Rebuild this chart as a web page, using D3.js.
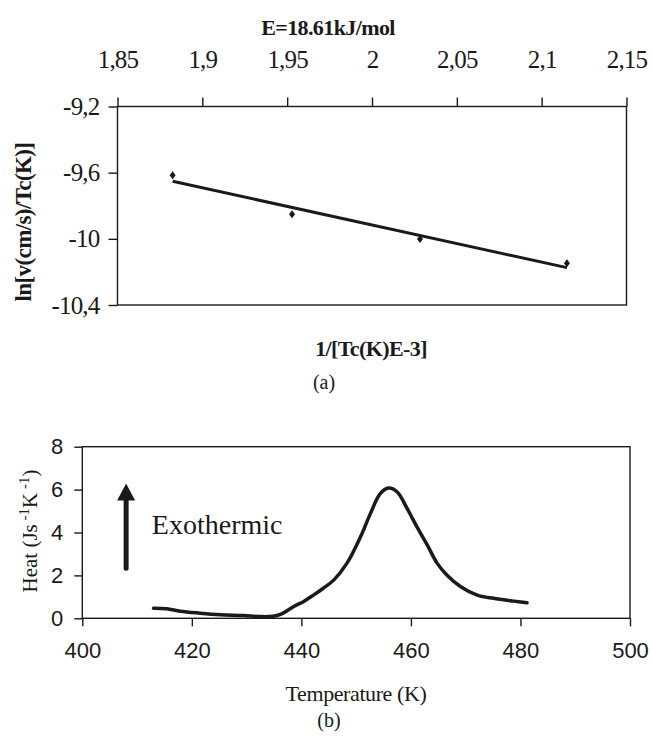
<!DOCTYPE html>
<html>
<head>
<meta charset="utf-8">
<script src="https://cdn.jsdelivr.net/npm/d3@7"></script>
<style>
  html, body { margin: 0; padding: 0; background: #fff; }
  svg { display: block; }
</style>
</head>
<body>
<svg id="chart" width="652" height="738"></svg>
<script>
// ---------- Data: panel (a) ----------
const invTc = [1.8825, 1.9529, 2.0283, 2.1149];          // 1/[Tc(K)E-3]
const lnVTc = [-9.615, -9.852, -10.001, -10.148];        // ln[v/Tc]
const aXTicks = [1.85, 1.9, 1.95, 2, 2.05, 2.1, 2.15];
const aXTickLabels = ["1,85", "1,9", "1,95", "2", "2,05", "2,1", "2,15"];
const aYTicks = [-9.2, -9.6, -10, -10.4];
const aYTickLabels = ["-9,2", "-9,6", "-10", "-10,4"];

// ---------- Data: panel (b) ----------
const tempK = [413.0, 415.4, 417.9, 421.5, 425.2, 429.4, 432.5, 434.9, 436.5, 438.6,
               440.5, 442.2, 444.0, 445.9, 448.3, 450.8, 452.6, 454.4, 455.9, 457.5,
               459.3, 461.1, 463.0, 464.8, 466.6, 469.1, 472.1, 475.1, 478.8, 481.2];
const heat  = [0.47, 0.45, 0.33, 0.24, 0.17, 0.13, 0.08, 0.10, 0.22, 0.55,
               0.80, 1.08, 1.40, 1.78, 2.56, 3.80, 4.88, 5.81, 6.07, 5.89,
               5.12, 4.26, 3.41, 2.56, 2.01, 1.47, 1.08, 0.93, 0.80, 0.72];
const bXTicks = [400, 420, 440, 460, 480, 500];
const bYTicks = [0, 2, 4, 6, 8];
const arrowT = [408, 408];      // exothermic arrow, x in K
const arrowH = [2.33, 6.28];    // from / to (J s-1 K-1)
const noteT = 412.7, noteH = 3.95;

const serif = "'Liberation Serif', 'Times New Roman', serif";
const sans = "'Liberation Sans', Arial, sans-serif";
const ink = "#1a1a1a";

const svg = d3.select("#chart");

// ================= Panel (a) =================
const ax = d3.scaleLinear().domain([1.85, 2.15]).range([117.5, 626.5]);
const ay = d3.scaleLinear().domain([-9.2, -10.4]).range([106.5, 305]);
const gA = svg.append("g");

gA.append("rect")
  .attr("x", ax(1.85)).attr("y", ay(-9.2))
  .attr("width", ax(2.15) - ax(1.85)).attr("height", ay(-10.4) - ay(-9.2))
  .attr("fill", "none").attr("stroke", ink).attr("stroke-width", 1.4);

const aTop = gA.append("g").attr("transform", `translate(0,${ay(-9.2)})`)
  .call(d3.axisTop(ax).tickValues(aXTicks)
    .tickFormat((d, i) => aXTickLabels[i]).tickSize(9).tickPadding(29.5));
aTop.select(".domain").remove();
aTop.selectAll("line").attr("stroke", ink).attr("stroke-width", 1.4);
aTop.selectAll("text").attr("font-family", serif).attr("font-size", 25)
  .attr("fill", ink).attr("letter-spacing", -0.8);

const aLeft = gA.append("g").attr("transform", `translate(${ax(1.85)},0)`)
  .call(d3.axisLeft(ay).tickValues(aYTicks)
    .tickFormat((d, i) => aYTickLabels[i]).tickSize(9).tickPadding(9));
aLeft.select(".domain").remove();
aLeft.selectAll("line").attr("stroke", ink).attr("stroke-width", 1.4);
aLeft.selectAll("text").attr("font-family", serif).attr("font-size", 25)
  .attr("fill", ink).attr("letter-spacing", -0.8);

// regression line through the points
const n = invTc.length;
const mx = d3.mean(invTc), my = d3.mean(lnVTc);
const slope = d3.sum(invTc.map((x, i) => (x - mx) * (lnVTc[i] - my))) /
              d3.sum(invTc.map(x => (x - mx) * (x - mx)));
const icpt = my - slope * mx;
const xExt = d3.extent(invTc);
gA.append("path")
  .datum(xExt.map(x => [x, icpt + slope * x]))
  .attr("d", d3.line().x(d => ax(d[0])).y(d => ay(d[1])))
  .attr("fill", "none").attr("stroke", ink).attr("stroke-width", 3);

gA.selectAll("path.pt").data(invTc).join("path")
  .attr("class", "pt")
  .attr("transform", (d, i) => `translate(${ax(d)},${ay(lnVTc[i])})`)
  .attr("d", "M0,-4 L3,0 L0,4 L-3,0 Z")
  .attr("fill", ink);

gA.append("text").attr("x", 328).attr("y", 35)
  .attr("text-anchor", "middle").attr("font-family", serif)
  .attr("font-size", 22).attr("font-weight", "bold").attr("letter-spacing", -0.6)
  .attr("fill", ink).text("E=18.61kJ/mol");

gA.append("text").attr("x", 371).attr("y", 356)
  .attr("text-anchor", "middle").attr("font-family", serif)
  .attr("font-size", 22).attr("font-weight", "bold").attr("letter-spacing", -0.6)
  .attr("fill", ink).text("1/[Tc(K)E-3]");

gA.append("text").attr("transform", "translate(31,222) rotate(-90)")
  .attr("text-anchor", "middle").attr("font-family", serif)
  .attr("font-size", 23).attr("font-weight", "bold").attr("letter-spacing", -0.6)
  .attr("fill", ink).text("ln[v(cm/s)/Tc(K)]");

svg.append("text").attr("x", 324).attr("y", 389)
  .attr("text-anchor", "middle").attr("font-family", serif)
  .attr("font-size", 20).attr("fill", ink).text("(a)");

// ================= Panel (b) =================
const bx = d3.scaleLinear().domain([400, 500]).range([82.3, 630]);
const by = d3.scaleLinear().domain([0, 8]).range([618.3, 446.7]);
const gB = svg.append("g");

gB.append("rect")
  .attr("x", bx(400)).attr("y", by(8))
  .attr("width", bx(500) - bx(400)).attr("height", by(0) - by(8))
  .attr("fill", "none").attr("stroke", ink).attr("stroke-width", 1.4);

const bBot = gB.append("g").attr("transform", `translate(0,${by(0)})`)
  .call(d3.axisBottom(bx).tickValues(bXTicks).tickFormat(d3.format("d"))
    .tickSize(8).tickPadding(16));
bBot.select(".domain").remove();
bBot.selectAll("line").attr("stroke", ink).attr("stroke-width", 1.4);
bBot.selectAll("text").attr("font-family", sans).attr("font-size", 22).attr("fill", ink);

const bLeft = gB.append("g").attr("transform", `translate(${bx(400)},0)`)
  .call(d3.axisLeft(by).tickValues(bYTicks).tickFormat(d3.format("d"))
    .tickSize(8).tickPadding(11));
bLeft.select(".domain").remove();
bLeft.selectAll("line").attr("stroke", ink).attr("stroke-width", 1.4);
bLeft.selectAll("text").attr("font-family", sans).attr("font-size", 22).attr("fill", ink);

gB.append("path")
  .datum(tempK.map((t, i) => [t, heat[i]]))
  .attr("d", d3.line().x(d => bx(d[0])).y(d => by(d[1])).curve(d3.curveCatmullRom.alpha(0.5)))
  .attr("fill", "none").attr("stroke", ink).attr("stroke-width", 3.5)
  .attr("stroke-linejoin", "round").attr("stroke-linecap", "round");

// exothermic arrow
const axX = bx(arrowT[0]);
const yTail = by(arrowH[0]), yTip = by(arrowH[1]);
gB.append("line").attr("x1", axX).attr("x2", axX)
  .attr("y1", yTail).attr("y2", yTip + 14)
  .attr("stroke", ink).attr("stroke-width", 5).attr("stroke-linecap", "round");
gB.append("path")
  .attr("d", `M${axX},${yTip} L${axX + 9},${yTip + 17} L${axX - 9},${yTip + 17} Z`)
  .attr("fill", ink);

gB.append("text").attr("x", bx(noteT)).attr("y", by(noteH))
  .attr("font-family", serif).attr("font-size", 28).attr("fill", ink)
  .text("Exothermic");

gB.append("text").attr("x", 356).attr("y", 701)
  .attr("text-anchor", "middle").attr("font-family", serif)
  .attr("font-size", 22).attr("fill", ink).attr("letter-spacing", -0.4)
  .text("Temperature (K)");

const yl = gB.append("text").attr("transform", "translate(36.5,531) rotate(-90)")
  .attr("text-anchor", "middle").attr("font-family", serif)
  .attr("font-size", 21).attr("fill", ink);
yl.append("tspan").text("Heat (Js");
yl.append("tspan").attr("dy", -8).attr("font-size", 15).text(" -1");
yl.append("tspan").attr("dy", 8).text("K");
yl.append("tspan").attr("dy", -8).attr("font-size", 15).text(" -1");
yl.append("tspan").attr("dy", 8).text(")");

svg.append("text").attr("x", 329).attr("y", 727)
  .attr("text-anchor", "middle").attr("font-family", serif)
  .attr("font-size", 20).attr("fill", ink).text("(b)");
</script>
</body>
</html>
